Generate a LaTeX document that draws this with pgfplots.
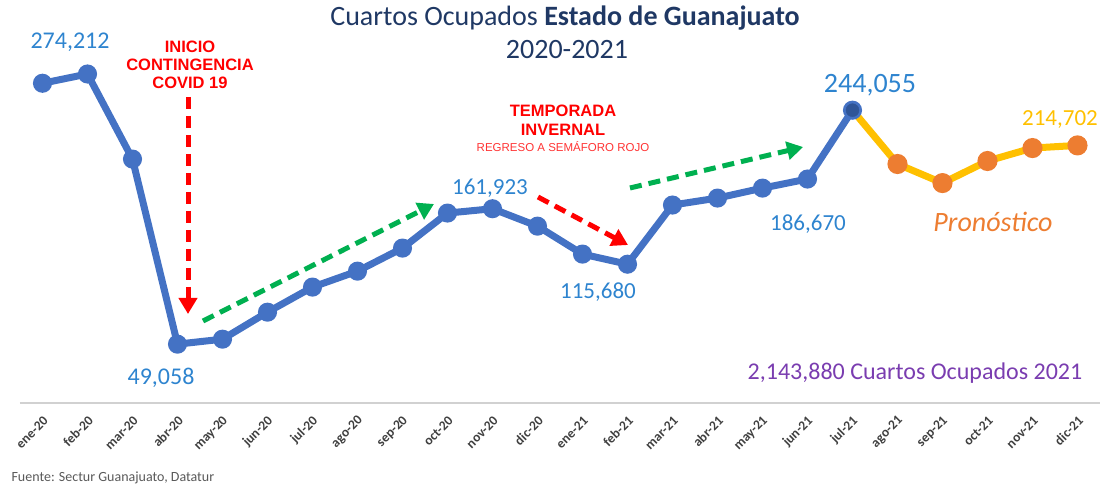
\documentclass[border=0pt]{standalone}
\usepackage{pgfplots}
\pgfplotsset{compat=1.18}
\usepackage{pgfplotstable}
\usepackage{fontspec}
\setmainfont{Carlito}
\newfontfamily\arialfont{Liberation Sans}
\usetikzlibrary{arrows.meta}
\definecolor{blueline}{HTML}{4472C4}
\definecolor{bluedark}{HTML}{2F5597}
\definecolor{bluelab}{HTML}{2E84CF}
\definecolor{navy}{HTML}{1F3864}
\definecolor{gold}{HTML}{FFC000}
\definecolor{orangem}{HTML}{ED7D31}
\definecolor{purp}{HTML}{7A3DB0}
\definecolor{greenarr}{HTML}{00B050}
\definecolor{ticktxt}{HTML}{404040}

\pgfplotstableread{
x y
0 266500
1 274212
2 203300
3 49058
4 53200
5 75700
6 96600
7 109900
8 129100
9 158300
10 161923
11 147400
12 124100
13 115680
14 165000
15 170800
16 179100
17 186670
18 244055
}\real
\pgfplotstableread{
x y
18 244055
19 199200
20 183300
21 201700
22 212500
23 214702
}\forecast

\begin{document}
\begin{tikzpicture}
\begin{axis}[
  scale only axis, width=1080pt, height=383pt,
  xmin=-0.5, xmax=23.5, ymin=0, ymax=319230,
  axis y line=none, axis x line*=bottom,
  x axis line style={draw=black!18, line width=1.2pt},
  ytick=\empty,
  xtick={0,...,23},
  xticklabels={ene-20,feb-20,mar-20,abr-20,may-20,jun-20,jul-20,ago-20,sep-20,oct-20,nov-20,dic-20,ene-21,feb-21,mar-21,abr-21,may-21,jun-21,jul-21,ago-21,sep-21,oct-21,nov-21,dic-21},
  major tick length=0pt,
  xticklabel style={xshift=4pt, yshift=-15pt, rotate=45, anchor=east, inner sep=1pt, font=\fontsize{13.5}{13.5}\selectfont\bfseries, text=ticktxt},
  clip=false,
]
\addplot[blueline, line width=7pt, mark=*, mark size=6pt, mark options={fill=blueline, draw=blueline}] table {\real};
\addplot[gold, line width=7pt, mark=*, mark indices={2,3,4,5,6}, mark size=6.5pt, mark options={fill=orangem, draw=orangem}] table {\forecast};
\addplot[only marks, mark=*, mark size=6.5pt, mark options={fill=bluedark, draw=bluedark}] coordinates {(18,244055)};
\coordinate (axTL) at (rel axis cs:0,1);
\end{axis}
\begin{scope}[shift={(axTL)}, xshift=-20pt, yshift=20pt, x=1pt, y=-1pt]
\pgfresetboundingbox
\path[use as bounding box] (0,0) rectangle (1104,492);
% title
\node[text=navy, font=\fontsize{28}{28}\selectfont] at (565,18) {Cuartos Ocupados \textbf{Estado de Guanajuato}};
\node[text=navy, font=\fontsize{28}{28}\selectfont] at (567,50) {2020-2021};
% data labels
\node[text=bluelab, font=\fontsize{24}{24}\selectfont] at (70,42) {274,212};
\node[text=bluelab, font=\fontsize{24}{24}\selectfont] at (161,378) {49,058};
\node[text=bluelab, font=\fontsize{23}{23}\selectfont] at (490,188) {161,923};
\node[text=bluelab, font=\fontsize{23}{23}\selectfont] at (598,292) {115,680};
\node[text=bluelab, font=\fontsize{23}{23}\selectfont] at (808,224) {186,670};
\node[text=bluelab, font=\fontsize{28}{28}\selectfont] at (870,85) {244,055};
\node[text=gold, font=\fontsize{23}{23}\selectfont] at (1060,120) {214,702};
\node[text=orangem, font=\fontsize{28}{28}\selectfont\itshape] at (993,222) {Pronóstico};
\node[text=purp, font=\fontsize{24}{24}\selectfont] at (915,373) {2,143,880 Cuartos Ocupados 2021};
\node[text=black!65, font=\fontsize{14}{14}\selectfont, anchor=west] at (8,478) {Fuente: Sectur Guanajuato, Datatur};
% red annotations
\node[text=red, font=\arialfont\bfseries\fontsize{16.5}{16.5}\selectfont] at (190,47) {INICIO};
\node[text=red, font=\arialfont\bfseries\fontsize{16.5}{16.5}\selectfont] at (190,65) {CONTINGENCIA};
\node[text=red, font=\arialfont\bfseries\fontsize{16.5}{16.5}\selectfont] at (190,83) {COVID 19};
\node[text=red, font=\arialfont\bfseries\fontsize{16.5}{16.5}\selectfont] at (563,111) {TEMPORADA};
\node[text=red, font=\arialfont\bfseries\fontsize{16.5}{16.5}\selectfont] at (563,130) {INVERNAL};
\node[text=red!80, font=\arialfont\fontsize{11.5}{11.5}\selectfont] at (563,147) {REGRESO A SEMÁFORO ROJO};
% arrows
\draw[red, line width=5pt, dash pattern=on 12pt off 7pt, -{Triangle[length=16pt,width=18pt]}] (188,97) -- (188,314);
\draw[greenarr, line width=5pt, dash pattern=on 12pt off 7pt, -{Triangle[length=16pt,width=18pt]}] (203,321) -- (434,204);
\draw[red, line width=5pt, dash pattern=on 12pt off 7pt, -{Triangle[length=16pt,width=18pt]}] (538,197) -- (628,245);
\draw[greenarr, line width=5pt, dash pattern=on 12pt off 7pt, -{Triangle[length=16pt,width=18pt]}] (630,188) -- (803,147);
\end{scope}
\end{tikzpicture}
\end{document}
